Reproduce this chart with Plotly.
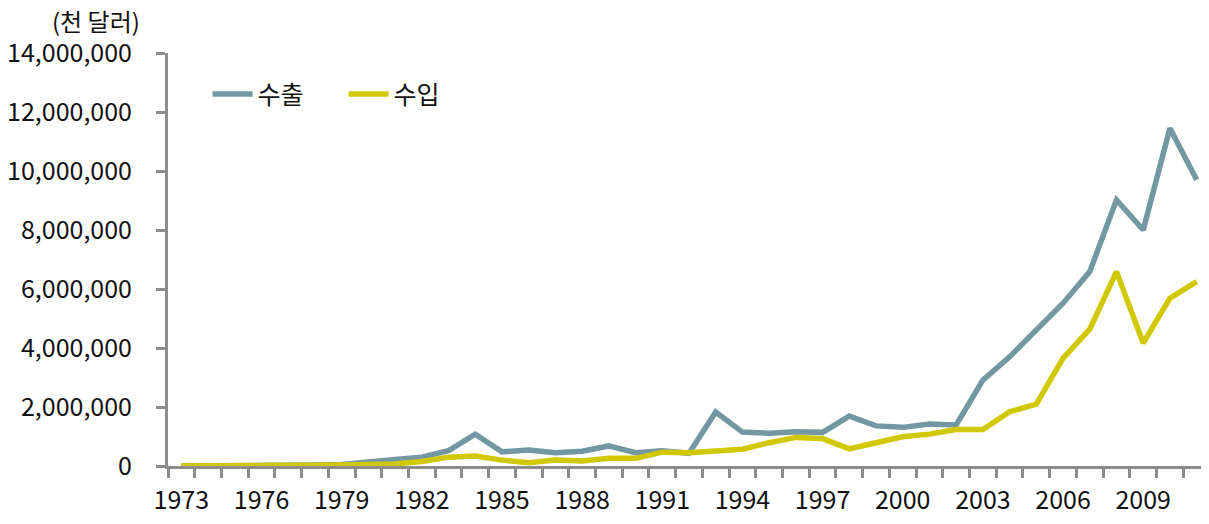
import plotly.graph_objects as go

years = list(range(1973, 2012))
exports = [0, 0, 0, 0, 0, 30000, 50000, 150000, 220000, 300000, 520000, 1080000,
           480000, 540000, 450000, 500000, 680000, 450000, 520000, 430000, 1830000,
           1150000, 1110000, 1160000, 1140000, 1690000, 1360000, 1310000, 1420000,
           1390000, 2910000, 3700000, 4610000, 5520000, 6590000, 9020000, 8000000,
           11450000, 9700000]
imports = [0, 0, 0, 0, 0, 10000, 30000, 50000, 70000, 150000, 300000, 340000,
           200000, 110000, 200000, 170000, 260000, 260000, 470000, 450000, 520000,
           570000, 790000, 970000, 930000, 580000, 790000, 990000, 1080000,
           1240000, 1240000, 1840000, 2100000, 3660000, 4640000, 6590000, 4170000,
           5690000, 6250000]
x_labels = list(range(1973, 2012, 3))
y_ticks = list(range(0, 14000001, 2000000))

FONT = "Noto Sans CJK KR"
AX = "#8c8c8c"

fig = go.Figure()
fig.add_trace(go.Scatter(x=years, y=exports, name="수출", mode="lines",
                         line=dict(color="#7398a4", width=5.5)))
fig.add_trace(go.Scatter(x=years, y=imports, name="수입", mode="lines",
                         line=dict(color="#d2c800", width=5.5)))

fig.update_layout(
    width=1209, height=524,
    margin=dict(l=160, r=7, t=45, b=66),
    paper_bgcolor="white", plot_bgcolor="white",
    font=dict(family=FONT, size=25, color="#111111"),
    showlegend=True,
    legend=dict(orientation="h", x=0.038, y=0.9, xanchor="left", yanchor="middle",
                font=dict(size=25), bgcolor="rgba(0,0,0,0)", entrywidth=81,
                entrywidthmode="pixels", itemwidth=40),
    annotations=[dict(text="(천 달러)", xref="paper", yref="paper", x=0, y=1.0,
                      xanchor="right", yanchor="middle", xshift=-26, yshift=33,
                      showarrow=False, font=dict(size=24, family=FONT))],
)
fig.update_xaxes(
    range=[1972.5, 2011.5], tickmode="array", tickvals=x_labels,
    ticktext=[str(v) for v in x_labels], ticks="", ticklabelstandoff=10,
    showgrid=False, zeroline=False, showline=True, linecolor=AX, linewidth=3,
    minor=dict(tickmode="linear", tick0=1972.5, dtick=1, ticks="outside",
               ticklen=9, tickwidth=3, tickcolor=AX, showgrid=False),
    tickfont=dict(size=25), automargin=False,
)
fig.update_yaxes(
    range=[0, 14000000], tickmode="array", tickvals=y_ticks,
    tickformat=",d", ticks="outside", ticklen=9, tickwidth=3, tickcolor=AX,
    ticklabelstandoff=19,
    showgrid=False, zeroline=False, showline=True, linecolor=AX, linewidth=3,
    tickfont=dict(size=25), automargin=False,
)

fig.write_html("out.html")
